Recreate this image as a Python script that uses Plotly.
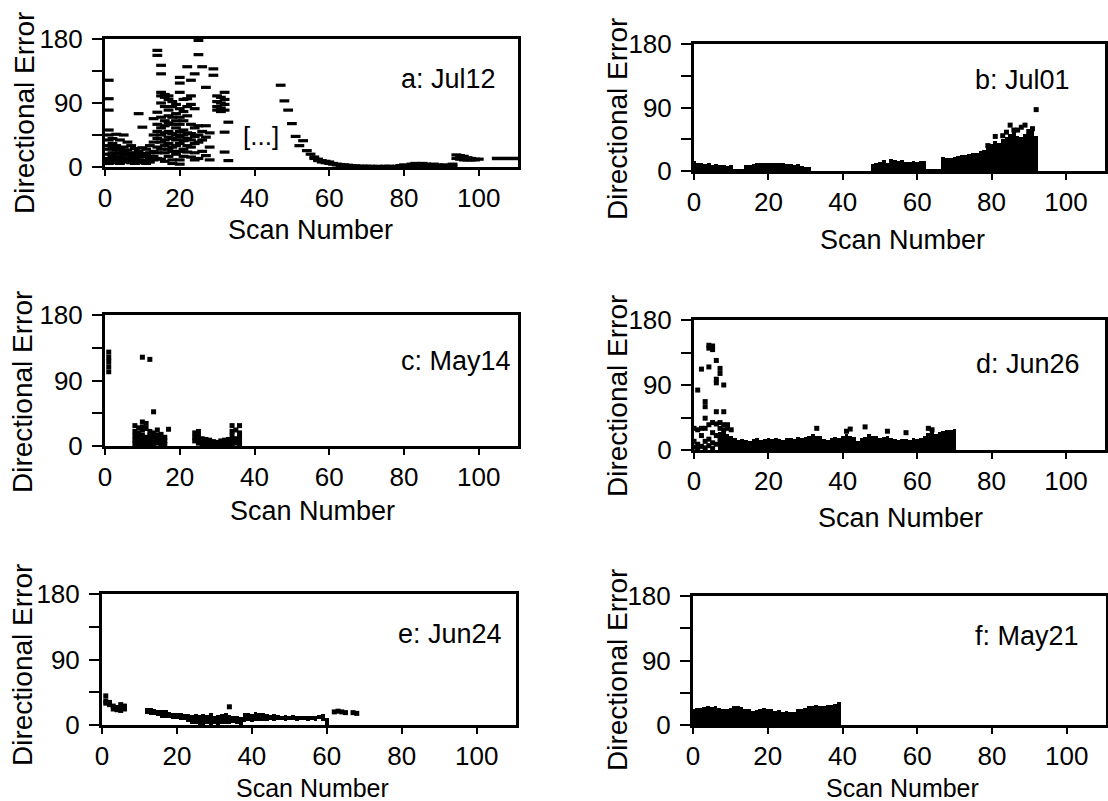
import plotly.graph_objects as go

# ---------------- DATA ----------------
# Panel a: Jul12 -- scan number -> directional errors (deg)
a_points = {
    1: [122, 96, 80, 52, 45, 38, 30, 25, 18, 12, 8, 5],
    2: [40, 33, 27, 20, 15, 10, 6],
    3: [46, 30, 24, 18, 12, 8],
    4: [38, 26, 20, 14, 10, 5],
    5: [45, 28, 22, 17, 11, 7],
    6: [35, 24, 18, 13, 8],
    7: [30, 20, 15, 10, 6],
    8: [26, 18, 12, 8, 5],
    9: [75, 22, 15, 10, 7],
    10: [56, 27, 19, 14, 9, 6],
    11: [25, 16, 9, 5],
    12: [30, 20, 12, 7],
    13: [68, 45, 35, 22, 15, 10],
    14: [164, 157, 77, 60, 50, 40, 28, 20, 12],
    15: [143, 131, 105, 100, 90, 70, 55, 45, 35, 25, 11],
    16: [102, 98, 85, 65, 58, 48, 38, 30, 20, 8],
    17: [100, 95, 80, 72, 62, 50, 42, 33, 25, 15],
    18: [92, 85, 70, 60, 47, 40, 28, 22, 10, 5],
    19: [88, 75, 65, 55, 45, 38, 30, 18],
    20: [126, 118, 105, 82, 70, 60, 50, 42, 33, 22, 10, 4],
    21: [95, 78, 65, 52, 45, 37, 25, 15],
    22: [141, 96, 85, 72, 48, 40, 30, 21],
    23: [122, 100, 88, 60, 47, 38, 28, 14],
    24: [131, 82, 55, 43, 33, 20, 10],
    25: [178, 158, 58, 45, 35, 12],
    26: [141, 50, 38, 22],
    27: [112, 58, 42, 16],
    28: [48, 28, 10],
    29: [138, 129],
    30: [100, 92, 85, 80],
    31: [98, 90, 83, 78],
    32: [105, 95, 88, 80, 49, 21],
    33: [63, 9],
    47: [115], 48: [93], 49: [80], 50: [61], 51: [43], 52: [30], 53: [37],
    54: [23], 55: [18], 56: [14, 12], 57: [11, 9], 58: [9, 7], 59: [8, 6],
    60: [7, 5], 61: [5, 4], 62: [4, 3], 63: [3.5, 2], 64: [3, 2],
    65: [2.5, 1.5], 66: [2, 1], 67: [1.5, 1], 68: [1, 0.5],
    69: [1], 70: [1], 71: [1], 72: [0.5], 73: [1], 74: [0.5], 75: [1],
    76: [1], 77: [0.5], 78: [1],
    79: [2, 0.5], 80: [3, 1], 81: [2, 0.5], 82: [4, 1], 83: [5, 2], 84: [3, 1],
    85: [5, 2], 86: [4, 1], 87: [3, 1], 88: [4, 2], 89: [3, 1], 90: [2, 0.5],
    91: [3, 1], 92: [2, 1], 93: [4, 1],
    94: [17, 12], 95: [16, 11], 96: [15, 10], 97: [13, 10], 98: [12, 10],
    99: [11, 10], 100: [11],
}
a_tail_scan = [103.5, 110.5]
a_tail_err = [12, 12]

# Panel b: Jul01 -- dense scans (top of the filled band) + outliers
b_scan = list(range(0, 32)) + list(range(48, 93))
b_top = [14, 11, 12, 10, 12, 9, 10, 8, 9, 7, 8, 2, 2, 2, 9, 9, 10, 11, 12, 12,
         11, 12, 11, 12, 11, 10, 10, 9, 10, 7, 6, 6,
         10, 12, 13, 16, 12, 17, 15, 14, 16, 13, 13, 14, 13, 14, 14,
         2, 2, 2, 2,
         20, 19, 18, 20, 21, 22, 23, 24, 26, 25, 28, 30, 33, 38, 42, 40, 45,
         48, 52, 55, 50, 48, 52, 55, 58, 50]
b_out_scan = [79, 81, 83, 84, 85, 86, 87, 88, 89, 90, 91, 92]
b_out_err = [36, 49, 50, 55, 65, 58, 58, 62, 65, 56, 60, 87]

# Panel c: May14
c_points = {
    1: [129, 122, 116, 109, 102],
    8: [28, 20, 14, 8, 3],
    9: [25, 18, 12, 6, 2],
    10: [122, 33, 26, 22, 15, 9, 4, 1],
    11: [31, 24, 12, 6, 2],
    12: [119, 20, 14, 8, 3],
    13: [47, 18, 12, 6, 1],
    14: [22, 15, 9, 4],
    15: [16, 10, 5, 1],
    16: [12, 7, 2],
    17: [23],
    24: [18, 12, 7],
    25: [20, 14, 9, 4],
    26: [10, 6, 2],
    27: [9, 4, 1],
    28: [8, 5, 1],
    29: [6, 2],
    30: [5, 1],
    31: [7, 3],
    32: [8, 4, 1],
    33: [9, 5, 2],
    34: [28, 20, 14, 8, 3],
    35: [22, 10, 4],
    36: [28, 18, 12, 6, 1],
}

# Panel d: Jun26 -- dense band scans 7..70 + scattered points
d_scan = list(range(7, 71))
d_top = [25, 30, 22, 20, 16, 14, 15, 14, 13, 15, 16, 14, 15, 17, 15, 16, 15, 14,
         16, 17, 15, 18, 17, 18, 19, 22, 20, 19, 15, 14, 16, 18, 17, 19, 22, 20,
         18, 12, 16, 18, 22, 20, 19, 17, 18, 20, 16, 15, 14, 15, 15, 14, 16, 15,
         17, 20, 24, 25, 22, 25, 27, 28, 28, 29]
d_points = {
    0: [30, 12, 4],
    1: [83, 28, 8, 2],
    2: [112, 30, 20, 5],
    3: [67, 60, 44, 30, 12, 3],
    4: [145, 141, 115, 35, 15, 6],
    5: [144, 139, 38, 24, 10, 2],
    6: [124, 98, 93, 53, 36, 20, 8],
    7: [113, 106, 38, 30, 15],
    8: [90, 53, 35, 28],
    9: [35, 30],
    10: [28],
    33: [30], 41: [26], 42: [29], 46: [32], 52: [26], 57: [24], 63: [30], 64: [28],
}

# Panel e: Jun24 -- band (low/high) for scans 12..60 + scattered points
e_scan = list(range(12, 61))
e_low = [15, 14, 14, 13, 10, 9, 9, 8, 8, 7, 7, 4, 2, 1, 0, 0, 1, 0, 1, 0, 2, 2,
         1, 3, 2, 0, 4, 5, 4, 6, 5, 6, 6, 7, 6, 7, 7, 6, 7, 7, 6, 7, 7, 6, 7, 6,
         8, 5, 0]
e_high = [24, 23, 22, 21, 21, 20, 18, 17, 16, 16, 15, 15, 14, 15, 14, 15, 14,
          16, 13, 14, 15, 16, 14, 13, 12, 11, 17, 16, 15, 18, 16, 17, 15, 14,
          15, 14, 13, 14, 13, 14, 12, 13, 12, 13, 12, 13, 14, 15, 9]
e_points = {
    1: [40, 33, 30], 2: [31, 28], 3: [26, 22], 4: [24, 21], 5: [28, 23, 20],
    6: [26, 22], 34: [25], 62: [18], 63: [19], 64: [18], 65: [17], 67: [17],
    68: [16],
}

# Panel f: May21 -- dense band scans 0..39
f_scan = list(range(0, 40))
f_top = [22, 24, 24, 25, 26, 25, 26, 24, 22, 23, 24, 26, 27, 25, 22, 22, 20, 21,
         22, 24, 22, 23, 20, 21, 18, 19, 18, 18, 22, 23, 24, 27, 26, 28, 26, 27,
         28, 28, 30, 32]

panel_labels = ["a: Jul12", "b: Jul01", "c: May14", "d: Jun26", "e: Jun24", "f: May21"]
x_ticks = [0, 20, 40, 60, 80, 100]
y_ticks = [0, 45, 90, 135, 180]
y_ticktext = ["0", "", "90", "", "180"]

# ---------------- LAYOUT ----------------
W, H = 1108, 801
FONT = "Liberation Sans, Arial, Helvetica, sans-serif"
# plot-box pixel geometry: left, right, top, bottom
boxes = [
    (105, 518, 39, 167),
    (694, 1105, 44, 171),
    (105, 518, 315, 446),
    (694, 1105, 320, 450),
    (102, 516, 594, 725),
    (693, 1106, 596, 725),
]
ytitle_pos = [(24, 113), (617, 119), (22, 392), (617, 396), (22, 665), (617, 670)]
xtitle_pos = [(310, 230), (902, 240), (312, 511), (900, 518), (312, 788), (902, 788)]
label_pos = [(498, 79), (1072, 80), (513, 361), (1082, 364), (504, 634), (1081, 636)]
xtitle_sizes = [27, 27, 27, 27, 25, 25]


def px(xp):
    return xp / W


def py(yp):
    return 1 - yp / H


fig = go.Figure()


def ax_names(i):
    s = "" if i == 1 else str(i)
    return "x" + s, "y" + s


def add_points(pts, i, symbol, size, lw=0, color="black"):
    xa, ya = ax_names(i)
    xs = [k for k, v in pts.items() for _ in v]
    ys = [y for v in pts.values() for y in v]
    fig.add_trace(go.Scatter(
        x=xs, y=ys, mode="markers", xaxis=xa, yaxis=ya, cliponaxis=False,
        marker=dict(symbol=symbol, size=size, color=color,
                    line=dict(width=lw, color=color)),
        showlegend=False, hoverinfo="skip"))


def add_band(scan, top, i, base=None):
    xa, ya = ax_names(i)
    if base is None:
        y = top
        b = None
    else:
        y = [t - l for t, l in zip(top, base)]
        b = base
    fig.add_trace(go.Bar(
        x=scan, y=y, base=b, width=1.0, xaxis=xa, yaxis=ya,
        marker=dict(color="black", line=dict(width=0)),
        showlegend=False, hoverinfo="skip"))


# Panel a
add_points(a_points, 1, "line-ew", 7, lw=3.2)
fig.add_trace(go.Scatter(x=a_tail_scan, y=a_tail_err, mode="lines",
                         line=dict(color="black", width=3.5), xaxis="x", yaxis="y",
                         cliponaxis=False, showlegend=False, hoverinfo="skip"))
# Panel b
add_band(b_scan, b_top, 2)
fig.add_trace(go.Scatter(x=b_out_scan, y=b_out_err, mode="markers", xaxis="x2",
                         yaxis="y2", cliponaxis=False,
                         marker=dict(symbol="square", size=5, color="black"),
                         showlegend=False, hoverinfo="skip"))
# Panel c
add_points(c_points, 3, "square", 5)
# Panel d
add_band(d_scan, d_top, 4)
add_points(d_points, 4, "square", 5)
# Panel e
add_band(e_scan, e_high, 5, base=e_low)
add_points(e_points, 5, "square", 5)
# Panel f
add_band(f_scan, f_top, 6)

layout = dict(
    template="none",
    width=W, height=H, margin=dict(l=0, r=0, t=0, b=0, autoexpand=False),
    paper_bgcolor="white", plot_bgcolor="white",
    font=dict(family=FONT, color="black", size=26),
    barmode="overlay", bargap=0, showlegend=False,
)

annotations = []
for i, (L, R, T, B) in enumerate(boxes, start=1):
    s = "" if i == 1 else str(i)
    xa, ya = ax_names(i)
    layout["xaxis" + s] = dict(
        domain=[px(L), px(R)], range=[0, 110.5], anchor=ya, automargin=False,
        showline=True, linewidth=3, linecolor="black", mirror=True,
        ticks="outside", tickvals=x_ticks, ticklen=6, tickwidth=2,
        tickcolor="black", tickfont=dict(size=26, family=FONT),
        ticklabelstandoff=0, showgrid=False, zeroline=False, fixedrange=True)
    layout["yaxis" + s] = dict(
        domain=[py(B), py(T)], range=[0, 180], anchor=xa, automargin=False,
        showline=True, linewidth=3, linecolor="black", mirror=True,
        ticks="outside", tickvals=y_ticks, ticktext=y_ticktext, ticklen=10,
        tickwidth=2, tickcolor="black", tickfont=dict(size=26, family=FONT),
        ticklabelstandoff=4, showgrid=False, zeroline=False, fixedrange=True)
    tx, ty = ytitle_pos[i - 1]
    annotations.append(dict(text="Directional Error", x=px(tx), y=py(ty),
                            xref="paper", yref="paper", textangle=-90,
                            showarrow=False, xanchor="center", yanchor="middle",
                            font=dict(size=28, family=FONT)))
    sx, sy = xtitle_pos[i - 1]
    annotations.append(dict(text="Scan Number", x=px(sx), y=py(sy),
                            xref="paper", yref="paper", showarrow=False,
                            xanchor="center", yanchor="middle",
                            font=dict(size=xtitle_sizes[i - 1], family=FONT)))
    lx, ly = label_pos[i - 1]
    annotations.append(dict(text=panel_labels[i - 1], x=px(lx), y=py(ly),
                            xref="paper", yref="paper", showarrow=False,
                            xanchor="right", yanchor="middle",
                            font=dict(size=27, family=FONT)))

annotations.append(dict(text="[...]", x=41.7, y=43, xref="x", yref="y",
                        showarrow=False, xanchor="center", yanchor="middle",
                        font=dict(size=26, family=FONT)))
layout["annotations"] = annotations
fig.update_layout(**layout)

fig.write_html("out.html")
